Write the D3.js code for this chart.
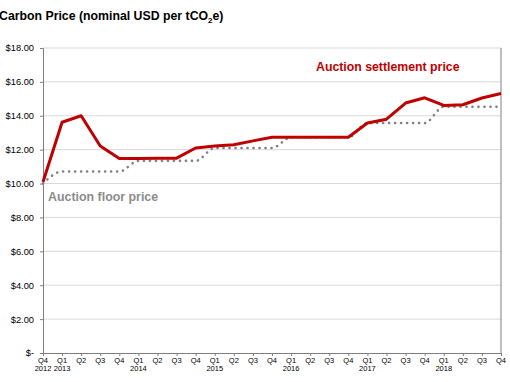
<!DOCTYPE html>
<html>
<head>
<meta charset="utf-8">
<script src="https://cdn.jsdelivr.net/npm/d3@7"></script>
<style>
  body { margin: 0; background: #fff; }
  svg { font-family: "Liberation Sans", Arial, sans-serif; }
</style>
</head>
<body>
<div id="chart"></div>
<script>
const quarters = ["Q4", "Q1", "Q2", "Q3", "Q4", "Q1", "Q2", "Q3", "Q4", "Q1", "Q2", "Q3", "Q4",
  "Q1", "Q2", "Q3", "Q4", "Q1", "Q2", "Q3", "Q4", "Q1", "Q2", "Q3", "Q4"];
const years = ["2012", "2013", "", "", "", "2014", "", "", "", "2015", "", "", "",
  "2016", "", "", "", "2017", "", "", "", "2018", "", "", ""];
const settlement = [10.09, 13.62, 14.00, 12.22, 11.48, 11.48, 11.50, 11.50, 12.10, 12.21, 12.29, 12.52, 12.73,
  12.73, 12.73, 12.73, 12.73, 13.57, 13.80, 14.75, 15.06, 14.61, 14.65, 15.05, 15.31];
const floor = [10.00, 10.71, 10.71, 10.71, 10.71, 11.34, 11.34, 11.34, 11.34, 12.10, 12.10, 12.10, 12.10,
  12.73, 12.73, 12.73, 12.73, 13.57, 13.57, 13.57, 13.57, 14.53, 14.53, 14.53, 14.53];
const yTicks = [0, 2, 4, 6, 8, 10, 12, 14, 16, 18];

const width = 510, height = 382;
const margin = { top: 48, right: 9, bottom: 29, left: 43 };

const svg = d3.select("#chart").append("svg")
  .attr("width", width)
  .attr("height", height);

const x = d3.scaleLinear()
  .domain([0, quarters.length - 1])
  .range([margin.left, width - margin.right]);

const y = d3.scaleLinear()
  .domain([0, 18])
  .range([height - margin.bottom, margin.top]);

// gridlines
svg.append("g")
  .selectAll("line")
  .data(yTicks.filter(d => d > 0))
  .enter()
  .append("line")
  .attr("x1", margin.left)
  .attr("x2", width - margin.right)
  .attr("y1", d => y(d))
  .attr("y2", d => y(d))
  .attr("stroke", "#d9d9d9")
  .attr("stroke-width", 1);

// y axis
const yAxis = svg.append("g")
  .attr("transform", `translate(${margin.left},0)`)
  .call(d3.axisLeft(y).tickValues(yTicks).tickSize(3).tickPadding(6)
    .tickFormat(d => d === 0 ? "$-" : "$" + d3.format(".2f")(d)));
yAxis.select(".domain").attr("stroke", "#7f7f7f");
yAxis.selectAll(".tick line").attr("stroke", "#7f7f7f");
yAxis.selectAll("text").attr("font-size", 9.3).attr("fill", "#000");

// right border
svg.append("line")
  .attr("x1", width - margin.right)
  .attr("x2", width - margin.right)
  .attr("y1", y(18))
  .attr("y2", y(0))
  .attr("stroke", "#7f7f7f");

// x axis
const xAxis = svg.append("g")
  .attr("transform", `translate(0,${y(0)})`)
  .call(d3.axisBottom(x).tickValues(d3.range(quarters.length)).tickSize(3).tickFormat(""));
xAxis.select(".domain").attr("stroke", "#7f7f7f");
xAxis.selectAll(".tick line").attr("stroke", "#7f7f7f");

const xLab = svg.append("g");
xLab.selectAll("text.q")
  .data(quarters)
  .enter()
  .append("text")
  .attr("class", "q")
  .attr("x", (d, i) => x(i))
  .attr("y", y(0) + 10)
  .attr("text-anchor", "middle")
  .attr("font-size", 7.5)
  .text(d => d);
xLab.selectAll("text.yr")
  .data(years)
  .enter()
  .append("text")
  .attr("class", "yr")
  .attr("x", (d, i) => x(i))
  .attr("y", y(0) + 17.5)
  .attr("text-anchor", "middle")
  .attr("font-size", 7.5)
  .text(d => d);

// floor price (dotted)
const floorLine = d3.line()
  .x((d, i) => x(i))
  .y(d => y(d))
  .curve(d3.curveMonotoneX);

svg.append("path")
  .datum(floor)
  .attr("d", floorLine)
  .attr("fill", "none")
  .attr("stroke", "#808080")
  .attr("stroke-width", 2.6)
  .attr("stroke-linecap", "round")
  .attr("stroke-dasharray", "0.1 5.9");

// settlement price
const settleLine = d3.line()
  .x((d, i) => x(i))
  .y(d => y(d));

svg.append("path")
  .datum(settlement)
  .attr("d", settleLine)
  .attr("fill", "none")
  .attr("stroke", "#c00000")
  .attr("stroke-width", 3)
  .attr("stroke-linejoin", "round");

// labels
svg.append("text")
  .attr("x", 316)
  .attr("y", 71)
  .attr("font-size", 12.3)
  .attr("font-weight", "bold")
  .attr("fill", "#c00000")
  .text("Auction settlement price");

svg.append("text")
  .attr("x", 48)
  .attr("y", 201)
  .attr("font-size", 12.4)
  .attr("font-weight", "bold")
  .attr("fill", "#8c8c8c")
  .text("Auction floor price");

// title
const title = svg.append("text")
  .attr("x", -1)
  .attr("y", 20)
  .attr("font-size", 12.3)
  .attr("font-weight", "bold")
  .attr("fill", "#000");
title.append("tspan").text("Carbon Price (nominal USD per tCO");
title.append("tspan").attr("font-size", 8).attr("dy", 3).text("2");
title.append("tspan").attr("dy", -3).text("e)");
</script>
</body>
</html>
